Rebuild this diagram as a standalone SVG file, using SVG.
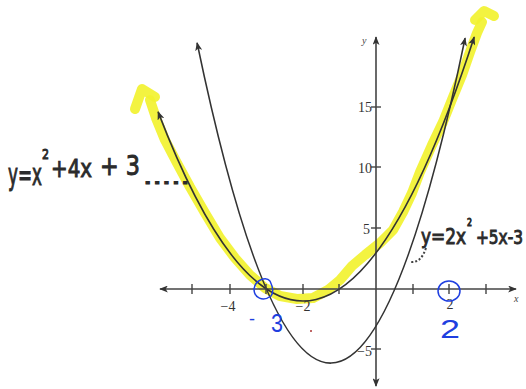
<svg xmlns="http://www.w3.org/2000/svg" width="526" height="389" viewBox="0 0 526 389">
<style>
.axis{stroke:#444;stroke-width:1.6;fill:none}
.tick{stroke:#444;stroke-width:1.4}
.curve{stroke:#333;stroke-width:1.6;fill:none}
.hl{stroke:#f2f230;stroke-width:10;fill:none;stroke-linecap:round;stroke-linejoin:round;opacity:0.92}
.num{font-family:"Liberation Serif",serif;font-size:14px;fill:#333}
.ax{font-family:"Liberation Serif",serif;font-style:italic;font-size:10px;fill:#444}
.hand{font-family:"DejaVu Sans","Liberation Sans",sans-serif;fill:#2b2b2b;stroke:#2b2b2b;stroke-width:1}
.blue{stroke:#1f3fe0;stroke-width:1.5;fill:none}
.bt{font-family:"Liberation Sans",sans-serif;fill:#1f3fe0}
</style>
<defs>
<marker id="ah" viewBox="0 0 10 8" refX="9" refY="4" markerWidth="9" markerHeight="7" orient="auto-start-reverse" markerUnits="userSpaceOnUse">
<path d="M0,0 L10,4 L0,8 L2.5,4 z" fill="#333"/>
</marker>
</defs>
<rect width="526" height="389" fill="#fff"/>

<g id="highlight">
<polyline class="hl" points="150,100 156,118 165,140 177,163 190,187 205,213 220,238 235,258 250,275 265,288 280,296 297,299 313,298 328,290 340,280 352,266 365,255 380,243 393,230 403,212 412,193 420,172 432,145 443,122 453,97 462,75 470,52 477,33 482,22"/>
<polyline class="hl" points="135,109 142,89 155,97"/>
<polyline class="hl" points="475,20 484,11 494,16"/>
</g>

<g id="connectors">
<line class="axis" x1="160" y1="289" x2="516" y2="289" marker-start="url(#ah)" marker-end="url(#ah)"/>
<line class="axis" x1="376" y1="37" x2="376" y2="386" marker-start="url(#ah)" marker-end="url(#ah)"/>
<path class="curve" d="M158.1,111.9 Q316.1,524.4 474.2,37" marker-start="url(#ah)" marker-end="url(#ah)"/>
<path class="curve" d="M197.1,42.8 Q331.1,685.7 465.1,38.1" marker-start="url(#ah)" marker-end="url(#ah)"/>
</g>

<g id="ticks">
<line class="tick" x1="192" y1="284" x2="192" y2="294"/>
<line class="tick" x1="230" y1="284" x2="230" y2="294"/>
<line class="tick" x1="266" y1="284" x2="266" y2="294"/>
<line class="tick" x1="303" y1="284" x2="303" y2="294"/>
<line class="tick" x1="339" y1="284" x2="339" y2="294"/>
<line class="tick" x1="413" y1="284" x2="413" y2="294"/>
<line class="tick" x1="449" y1="284" x2="449" y2="294"/>
<line class="tick" x1="486" y1="284" x2="486" y2="294"/>
<line class="tick" x1="371" y1="107" x2="381" y2="107"/>
<line class="tick" x1="371" y1="167" x2="381" y2="167"/>
<line class="tick" x1="371" y1="228" x2="381" y2="228"/>
<line class="tick" x1="371" y1="349" x2="381" y2="349"/>
</g>

<g id="labels">
<text class="num" x="228" y="311" text-anchor="middle">−4</text>
<text class="num" x="303" y="311" text-anchor="middle">−2</text>
<text class="num" x="450" y="309" text-anchor="middle">2</text>
<text class="num" x="372" y="112" text-anchor="end">15</text>
<text class="num" x="372" y="173" text-anchor="end">10</text>
<text class="num" x="370" y="234" text-anchor="end">5</text>
<text class="num" x="372" y="356" text-anchor="end">−5</text>
<text class="ax" x="362" y="44">y</text>
<text class="ax" x="514" y="302">x</text>
</g>

<g id="label-eq1">
<text class="hand" x="8" y="185" font-size="30" textLength="34" lengthAdjust="spacingAndGlyphs">y=x</text>
<text class="hand" x="42" y="159" font-size="14" textLength="7" lengthAdjust="spacingAndGlyphs">2</text>
<text class="hand" x="51" y="177" font-size="25" textLength="41" lengthAdjust="spacingAndGlyphs">+4x</text>
<text class="hand" x="100" y="175" font-size="27" textLength="40" lengthAdjust="spacingAndGlyphs">+ 3</text>
<text class="hand" x="143" y="184" font-size="20" textLength="47" lengthAdjust="spacingAndGlyphs">.....</text>
</g>

<g id="label-eq2">
<text class="hand" x="421" y="244" font-size="21" textLength="45" lengthAdjust="spacingAndGlyphs">y=2x</text>
<text class="hand" x="467" y="226" font-size="10" textLength="5" lengthAdjust="spacingAndGlyphs">2</text>
<text class="hand" x="476" y="244" font-size="19" textLength="47" lengthAdjust="spacingAndGlyphs">+5x-3</text>
<path d="M426,248 Q421,263 411,262" stroke="#444" stroke-width="2" fill="none" stroke-dasharray="2 2"/>
</g>

<g id="root-a">
<path class="blue" d="M270,281 C266,276 255,280 254,289 C254,298 263,302 271,296 C274,292 272,285 270,281"/>
<text class="bt" x="249" y="325" font-size="18">-</text>
<text class="bt" x="271" y="332" font-size="26" textLength="12" lengthAdjust="spacingAndGlyphs">3</text>
</g>

<g id="root-b">
<ellipse class="blue" cx="449" cy="291" rx="11" ry="10"/>
<text class="bt" x="440" y="338" font-size="26" textLength="20" lengthAdjust="spacingAndGlyphs">2</text>
</g>

<circle cx="311" cy="331" r="1" fill="#a33"/>
</svg>
